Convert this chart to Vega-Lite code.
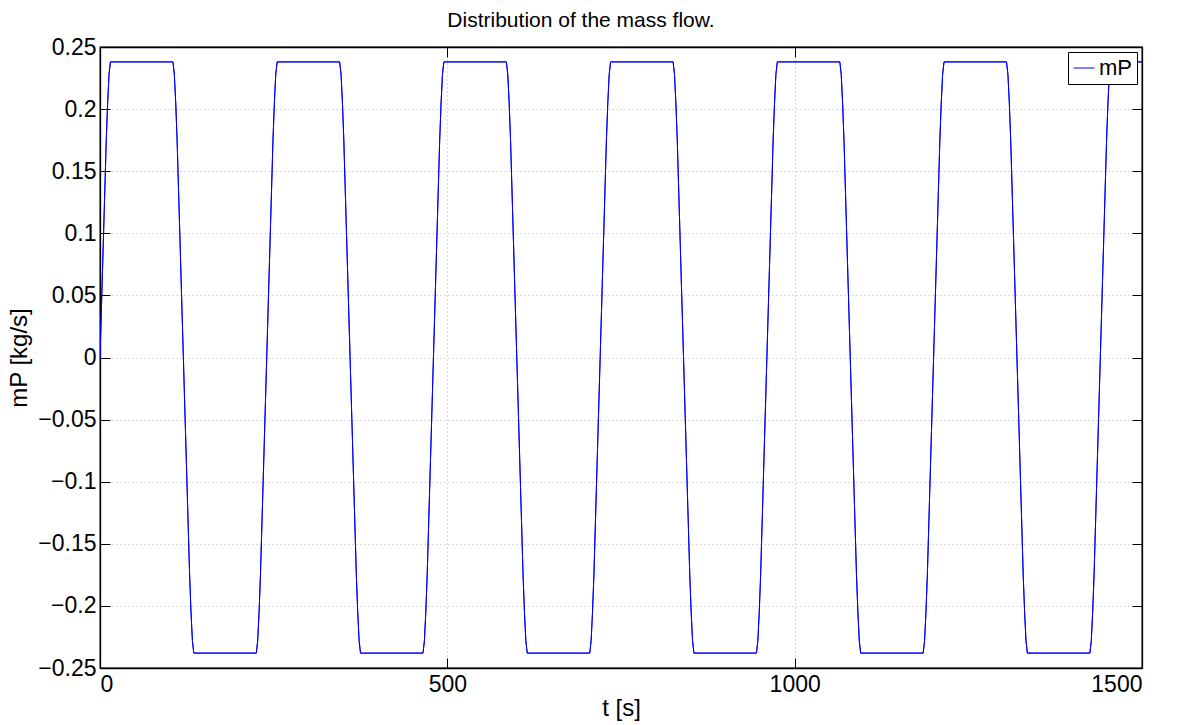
{
  "$schema": "https://vega.github.io/schema/vega-lite/v6.json",
  "autosize": {"type": "none"},
  "padding": {"left": 100, "top": 47, "right": 37, "bottom": 57},
  "width": 1042,
  "height": 621,
  "background": "white",
  "title": {"text": "Distribution of the mass flow.", "font": "Liberation Sans", "fontSize": 21, "fontWeight": "normal", "color": "black", "anchor": "middle", "offset": 5, "dx": -40},
  "config": {
    "view": {"stroke": "black", "strokeWidth": 1.3},
    "axis": {"labelFont": "Liberation Sans", "titleFont": "Liberation Sans", "labelFontSize": 23, "titleFontSize": 24, "titleFontWeight": "normal", "labelColor": "black", "titleColor": "black", "domainColor": "black", "domainWidth": 1.3, "tickColor": "black", "tickWidth": 1, "gridColor": "#b4b4b4", "gridDash": [1, 3], "gridWidth": 1}
  },
  "data": {"values": [
    {"t": 0, "mP": 0}, {"t": 9, "mP": 0.175}, {"t": 11, "mP": 0.205}, {"t": 13, "mP": 0.228}, {"t": 15, "mP": 0.238},
    {"t": 105, "mP": 0.238}, {"t": 107, "mP": 0.228}, {"t": 109, "mP": 0.205}, {"t": 111, "mP": 0.175}, {"t": 120, "mP": 0}, {"t": 129, "mP": -0.175}, {"t": 131, "mP": -0.205}, {"t": 133, "mP": -0.228}, {"t": 135, "mP": -0.238},
    {"t": 225, "mP": -0.238}, {"t": 227, "mP": -0.228}, {"t": 229, "mP": -0.205}, {"t": 231, "mP": -0.175}, {"t": 240, "mP": 0}, {"t": 249, "mP": 0.175}, {"t": 251, "mP": 0.205}, {"t": 253, "mP": 0.228}, {"t": 255, "mP": 0.238},
    {"t": 345, "mP": 0.238}, {"t": 347, "mP": 0.228}, {"t": 349, "mP": 0.205}, {"t": 351, "mP": 0.175}, {"t": 360, "mP": 0}, {"t": 369, "mP": -0.175}, {"t": 371, "mP": -0.205}, {"t": 373, "mP": -0.228}, {"t": 375, "mP": -0.238},
    {"t": 465, "mP": -0.238}, {"t": 467, "mP": -0.228}, {"t": 469, "mP": -0.205}, {"t": 471, "mP": -0.175}, {"t": 480, "mP": 0}, {"t": 489, "mP": 0.175}, {"t": 491, "mP": 0.205}, {"t": 493, "mP": 0.228}, {"t": 495, "mP": 0.238},
    {"t": 585, "mP": 0.238}, {"t": 587, "mP": 0.228}, {"t": 589, "mP": 0.205}, {"t": 591, "mP": 0.175}, {"t": 600, "mP": 0}, {"t": 609, "mP": -0.175}, {"t": 611, "mP": -0.205}, {"t": 613, "mP": -0.228}, {"t": 615, "mP": -0.238},
    {"t": 705, "mP": -0.238}, {"t": 707, "mP": -0.228}, {"t": 709, "mP": -0.205}, {"t": 711, "mP": -0.175}, {"t": 720, "mP": 0}, {"t": 729, "mP": 0.175}, {"t": 731, "mP": 0.205}, {"t": 733, "mP": 0.228}, {"t": 735, "mP": 0.238},
    {"t": 825, "mP": 0.238}, {"t": 827, "mP": 0.228}, {"t": 829, "mP": 0.205}, {"t": 831, "mP": 0.175}, {"t": 840, "mP": 0}, {"t": 849, "mP": -0.175}, {"t": 851, "mP": -0.205}, {"t": 853, "mP": -0.228}, {"t": 855, "mP": -0.238},
    {"t": 945, "mP": -0.238}, {"t": 947, "mP": -0.228}, {"t": 949, "mP": -0.205}, {"t": 951, "mP": -0.175}, {"t": 960, "mP": 0}, {"t": 969, "mP": 0.175}, {"t": 971, "mP": 0.205}, {"t": 973, "mP": 0.228}, {"t": 975, "mP": 0.238},
    {"t": 1065, "mP": 0.238}, {"t": 1067, "mP": 0.228}, {"t": 1069, "mP": 0.205}, {"t": 1071, "mP": 0.175}, {"t": 1080, "mP": 0}, {"t": 1089, "mP": -0.175}, {"t": 1091, "mP": -0.205}, {"t": 1093, "mP": -0.228}, {"t": 1095, "mP": -0.238},
    {"t": 1185, "mP": -0.238}, {"t": 1187, "mP": -0.228}, {"t": 1189, "mP": -0.205}, {"t": 1191, "mP": -0.175}, {"t": 1200, "mP": 0}, {"t": 1209, "mP": 0.175}, {"t": 1211, "mP": 0.205}, {"t": 1213, "mP": 0.228}, {"t": 1215, "mP": 0.238},
    {"t": 1305, "mP": 0.238}, {"t": 1307, "mP": 0.228}, {"t": 1309, "mP": 0.205}, {"t": 1311, "mP": 0.175}, {"t": 1320, "mP": 0}, {"t": 1329, "mP": -0.175}, {"t": 1331, "mP": -0.205}, {"t": 1333, "mP": -0.228}, {"t": 1335, "mP": -0.238},
    {"t": 1425, "mP": -0.238}, {"t": 1427, "mP": -0.228}, {"t": 1429, "mP": -0.205}, {"t": 1431, "mP": -0.175}, {"t": 1440, "mP": 0}, {"t": 1449, "mP": 0.175}, {"t": 1451, "mP": 0.205}, {"t": 1453, "mP": 0.228}, {"t": 1455, "mP": 0.238},
    {"t": 1500, "mP": 0.238}
  ]},
  "layer": [
    {
      "mark": {"type": "line", "strokeWidth": 1, "clip": true},
      "encoding": {
        "x": {"field": "t", "type": "quantitative", "scale": {"domain": [0, 1500], "nice": false, "zero": false},
          "axis": {"title": "t [s]", "values": [0, 500, 1000, 1500], "format": "d", "tickSize": -10, "labelPadding": 15, "titlePadding": 0, "grid": true}},
        "y": {"field": "mP", "type": "quantitative", "scale": {"domain": [-0.25, 0.25], "nice": false, "zero": false},
          "axis": {"title": "mP [kg/s]", "values": [-0.25, -0.2, -0.15, -0.1, -0.05, 0, 0.05, 0.1, 0.15, 0.2, 0.25], "format": ".2~f", "tickSize": -10, "labelPadding": 14, "titlePadding": 6, "grid": true}},
        "color": {"datum": "mP", "scale": {"range": ["#0000ff"]},
          "legend": {"title": null, "orient": "top-right", "offset": 5, "symbolType": "stroke", "symbolSize": 441, "symbolStrokeWidth": 1, "labelFont": "Liberation Sans", "labelFontSize": 22, "labelColor": "black", "strokeColor": "black", "fillColor": "white", "padding": 5, "labelOffset": 4, "symbolOffset": 0}}
      }
    },
    {
      "mark": {"type": "line", "strokeWidth": 1, "clip": true},
      "encoding": {
        "x": {"field": "t", "type": "quantitative", "scale": {"domain": [0, 1500], "nice": false, "zero": false},
          "axis": {"orient": "top", "title": null, "values": [0, 500, 1000, 1500], "labels": false, "tickSize": -10, "grid": false}},
        "y": {"field": "mP", "type": "quantitative", "scale": {"domain": [-0.25, 0.25], "nice": false, "zero": false},
          "axis": {"orient": "right", "title": null, "values": [-0.25, -0.2, -0.15, -0.1, -0.05, 0, 0.05, 0.1, 0.15, 0.2, 0.25], "labels": false, "tickSize": -10, "grid": false}},
        "color": {"datum": "mP"}
      }
    }
  ],
  "resolve": {"scale": {"x": "independent", "y": "independent"}}
}
